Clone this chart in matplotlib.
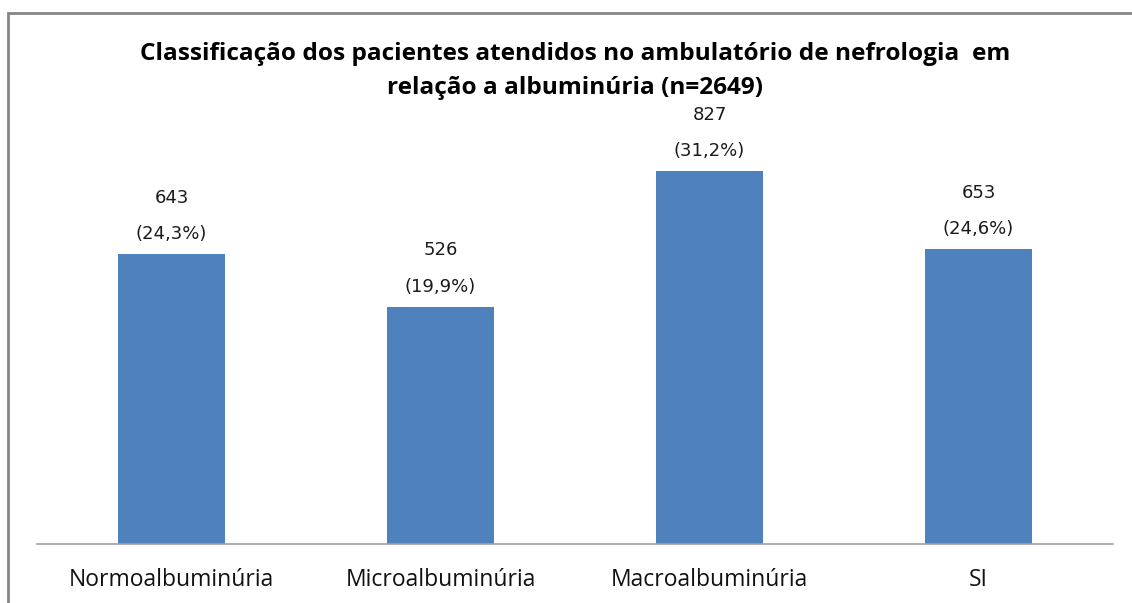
import matplotlib.pyplot as plt
from matplotlib.patches import Rectangle

categories = ["Normoalbuminúria", "Microalbuminúria", "Macroalbuminúria", "SI"]
counts = [643, 526, 827, 653]
percents = ["24,3%", "19,9%", "31,2%", "24,6%"]
title = ("Classificação dos pacientes atendidos no ambulatório de nefrologia  em\n"
         "relação a albuminúria (n=2649)")

plt.rcParams["font.family"] = ["Open Sans", "DejaVu Sans"]

W, H = 1132, 603
fig = plt.figure(figsize=(W / 100, H / 100), dpi=100)

# chart frame (left and top edges visible, the rest runs off the picture)
fig.patches.append(Rectangle((8 / W, -0.05), 1.2, 1 - 13 / H + 0.05,
                             transform=fig.transFigure, fill=False,
                             edgecolor="#868686", linewidth=2))

ax = fig.add_axes([37 / W, 1 - 544 / H, (1113 - 37) / W, 451 / H])
x = range(len(categories))
bars = ax.bar(x, counts, width=0.4, color="#4F81BD")

for b, c, p in zip(bars, counts, percents):
    ax.annotate(f"{c}\n({p})", (b.get_x() + b.get_width() / 2, b.get_height()),
                xytext=(0, 8), textcoords="offset points",
                ha="center", va="bottom", fontsize=13, linespacing=2.3,
                color="#1a1a1a", family=["DejaVu Sans"])

ax.set_xlim(-0.5, len(categories) - 0.5)
ax.set_ylim(0, 1000)
ax.set_xticks(list(x))
ax.set_xticklabels(categories, fontsize=16.5, color="#111111")
ax.tick_params(axis="x", length=0, pad=17)
ax.set_yticks([])
for s in ["top", "right", "left"]:
    ax.spines[s].set_visible(False)
ax.spines["bottom"].set_color("#A0A0A0")
ax.spines["bottom"].set_linewidth(1.2)

fig.text(575 / W, 1 - 71 / H, title, ha="center", va="center",
         fontsize=17.6, fontweight="bold", linespacing=1.5)

fig.savefig("out.png", dpi=100)
plt.close(fig)
